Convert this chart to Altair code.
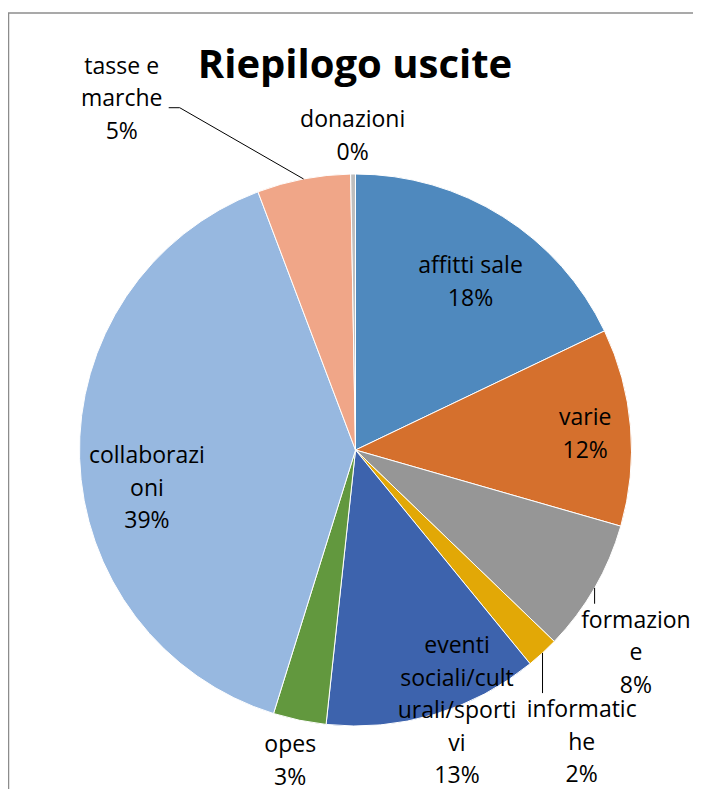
import math
import altair as alt
import pandas as pd

# ---- data ----
categories = ["affitti sale", "varie", "formazione", "informatiche",
              "eventi sociali/culturali/sportivi", "opes", "collaborazioni",
              "tasse e marche", "donazioni"]
wrapped = ["affitti sale", "varie", "formazion\ne", "informatic\nhe",
           "eventi\nsociali/cult\nurali/sporti\nvi", "opes", "collaborazi\noni",
           "tasse e\nmarche", "donazioni"]
values = [17.9, 11.55, 7.75, 1.9, 12.6, 3.1, 39.45, 5.47, 0.28]
colors = ["#4F89BE", "#D5702D", "#969696", "#E2A806", "#3D63AD",
          "#62983E", "#97B8E0", "#F0A688", "#BEBEBE"]
title_text = "Riepilogo uscite"

# ---- layout / style ----
W, H = 685, 781
CX, CY, R = 347.5, 442, 276
FONT = "Open Sans"
label_r = [211, 231, 332, 350, 227, 309, 209, 443, 323]
label_shift = [0.8, -1.4, 2.4, 2.4, -10, 0.5, -1.9, -21.0, 0]

total = sum(values)
rows, lab_rows, lead_rows = [], [], []
cum = 0.0
for i, (c, w, v) in enumerate(zip(categories, wrapped, values)):
    mid = (cum + v / 2) / total * 360
    cum += v
    pct = f"{round(v / total * 100)}%"
    rows.append({"idx": i, "cat": c, "val": v})
    a = math.radians(mid + label_shift[i])
    lx = CX + label_r[i] * math.sin(a)
    ly = CY - label_r[i] * math.cos(a)
    lab_rows.append({"cat": c, "txt": w + "\n" + pct, "x": lx, "y": ly})
    am = math.radians(mid)
    ex, ey = CX + R * math.sin(am), CY - R * math.cos(am)
    if c in ("formazione", "informatiche"):
        lead_rows += [{"seg": c, "o": 0, "x": ex, "y": ey},
                      {"seg": c, "o": 1, "x": ex, "y": ly - 24}]
    elif c == "tasse e marche":
        lead_rows += [{"seg": c, "o": 0, "x": ex, "y": ey},
                      {"seg": c, "o": 1, "x": lx + 58, "y": ly + 34},
                      {"seg": c, "o": 2, "x": lx + 47, "y": ly + 34}]

df = pd.DataFrame(rows)
labels = pd.DataFrame(lab_rows)
leaders = pd.DataFrame(lead_rows)

pie = alt.Chart(df).mark_arc(radius=R, stroke="white", strokeWidth=1).encode(
    theta=alt.Theta("val:Q", stack=True),
    color=alt.Color("cat:N", scale=alt.Scale(domain=categories, range=colors), legend=None),
    order=alt.Order("idx:Q"),
    x=alt.value(CX),
    y=alt.value(CY),
)

text = alt.Chart(labels).mark_text(
    font=FONT, fontSize=23, lineHeight=32.5, lineBreak="\n",
    align="center", baseline="alphabetic", color="#000000"
).encode(
    x=alt.X("x:Q", scale=None, axis=None),
    y=alt.Y("y:Q", scale=None, axis=None),
    text="txt:N",
)

lead = alt.Chart(leaders).mark_line(color="#000000", strokeWidth=1).encode(
    x=alt.X("x:Q", scale=None, axis=None),
    y=alt.Y("y:Q", scale=None, axis=None),
    detail="seg:N",
    order="o:Q",
)

title = alt.Chart(pd.DataFrame({"t": [title_text]})).mark_text(
    font=FONT, fontSize=40, fontWeight="bold", align="center",
    baseline="alphabetic", color="#000000"
).encode(x=alt.value(347), y=alt.value(70), text="t:N")

frame_top = alt.Chart(pd.DataFrame({"a": [0]})).mark_rule(
    color="#8C8C8C", strokeWidth=1.5
).encode(x=alt.value(0), x2=alt.value(W + 10), y=alt.value(5))
frame_left = alt.Chart(pd.DataFrame({"a": [0]})).mark_rule(
    color="#8C8C8C", strokeWidth=1.5
).encode(x=alt.value(0.5), y=alt.value(5), y2=alt.value(H))

chart = alt.layer(frame_top, frame_left, pie, lead, text, title).properties(
    width=W, height=H, autosize=alt.AutoSizeParams(type="none"), padding=0
).configure_view(stroke=None)

chart.save("out.html", embed_options={"renderer": "svg", "actions": False})
